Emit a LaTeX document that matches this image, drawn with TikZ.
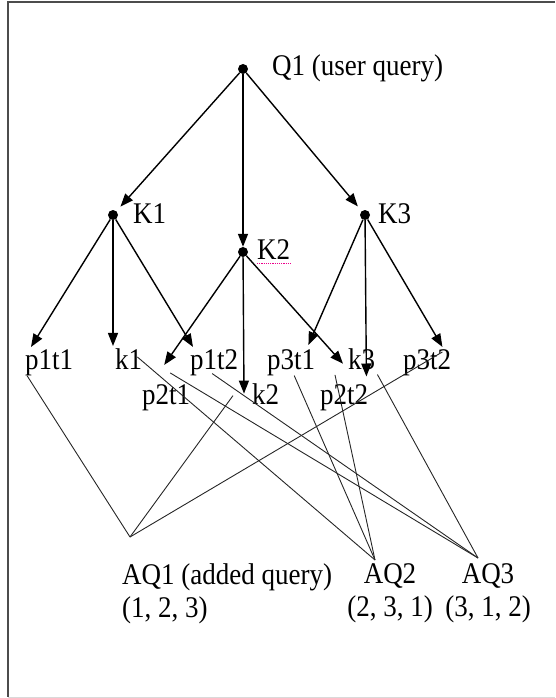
\documentclass[tikz,border=0pt]{standalone}
\usepackage{fontspec}
\setmainfont{Liberation Serif}[FakeStretch=0.9]
\usetikzlibrary{arrows.meta}

\begin{document}
\begin{tikzpicture}[
        x=1pt, y=-1pt,
        dot/.style={circle, fill=black, inner sep=0pt, minimum size=10pt},
        lbl/.style={inner sep=0pt, anchor=base west, font=\fontsize{30}{33}\selectfont},
        arrow/.style={-{Triangle[length=13pt, width=10pt]}, line width=1.4pt},
        link/.style={line width=0.9pt, black!85}
    ]
        \useasboundingbox (0,0) rectangle (555,698);

        % Cornice
        \draw[line width=1.5pt, black!70] (555,2) -- (8,2) -- (8,697);
        \draw[line width=1pt, black!15] (8,697) -- (555,697);

        % Query utente e parole chiave
        \node[dot] (Q1) at (243,69) {};
        \node[dot] (K1) at (113,215) {};
        \node[dot] (K2) at (243,252) {};
        \node[dot] (K3) at (365,215) {};
        \node[lbl] (Q1lbl) at (272,76) {Q1 (user query)};
        \node[lbl] (K1lbl) at (133,223) {K1};
        \node[lbl] (K2lbl) at (257,259) {K2};
        \node[lbl] (K3lbl) at (378,223) {K3};
        \draw[densely dotted, line width=1.2pt, magenta] ([yshift=-4pt]K2lbl.south west) -- ([yshift=-4pt]K2lbl.south east);

        % Termini espansi
        \node[lbl] (p1t1) at (25,369) {p1t1};
        \node[lbl] (k1) at (115,369) {k1};
        \node[lbl] (p1t2) at (190,369) {p1t2};
        \node[lbl] (p3t1) at (267,369) {p3t1};
        \node[lbl] (k3) at (348,369) {k3};
        \node[lbl] (p3t2) at (403,369) {p3t2};
        \node[lbl] (p2t1) at (142,404) {p2t1};
        \node[lbl] (k2) at (252,404) {k2};
        \node[lbl] (p2t2) at (320,404) {p2t2};

        % Frecce
        \draw[arrow, shorten >=6pt] (Q1) -- (K1);
        \draw[arrow] (Q1) -- (K2);
        \draw[arrow, shorten >=6pt] (Q1) -- (K3);
        \draw[arrow] (K1) -- ([shift={(6,-2)}]p1t1.north west);
        \draw[arrow] (K1) -- ([shift={(-2,-2)}]k1.north west);
        \draw[arrow] (K1) -- ([shift={(3,-2)}]p1t2.north west);
        \draw[arrow] (K2) -- ([shift={(-2,-19)}]p2t1.north);
        \draw[arrow] (K2) -- ([shift={(-8,0)}]k2.west);
        \draw[arrow] (K2) -- ([shift={(-5,5)}]k3.west);
        \draw[arrow] (K3) -- ([shift={(-7,-4)}]p3t1.north east);
        \draw[arrow] (K3) -- ([shift={(-9,7)}]k3.south east);
        \draw[arrow] (K3) -- ([shift={(-9,-2)}]p3t2.north east);

        % Query aggiunte
        \coordinate (aq1) at (130,537);
        \coordinate (aq2) at (375,560);
        \coordinate (aq3) at (478,558);
        \node[lbl, anchor=north west, align=left] (AQ1lbl) at (122,563) {AQ1 (added query)\\(1, 2, 3)};
        \node[lbl, anchor=north, align=center] (AQ2lbl) at (390,563) {AQ2\\(2, 3, 1)};
        \node[lbl, anchor=north, align=center] (AQ3lbl) at (488,563) {AQ3\\(3, 1, 2)};

        % Collegamenti
        \draw[link] ([shift={(2,0)}]p1t1.south west) -- (aq1);
        \draw[link] ([shift={(-19,2)}]k2.west) -- (aq1);
        \draw[link] ([shift={(-9,3)}]p3t2.north east) -- (aq1);
        \draw[link] ([shift={(-5,9)}]k1.north east) -- (aq2);
        \draw[link] ([shift={(3,0)}]p3t1.south) -- (aq2);
        \draw[link] ([shift={(15,-9)}]p2t2.north west) -- (aq2);
        \draw[link] ([shift={(-2,-2)}]p1t2.south) -- (aq3);
        \draw[link] ([shift={(4,-11)}]p2t1.north) -- (aq3);
        \draw[link] ([shift={(2,5)}]k3.south east) -- (aq3);
    \end{tikzpicture}
\end{document}
